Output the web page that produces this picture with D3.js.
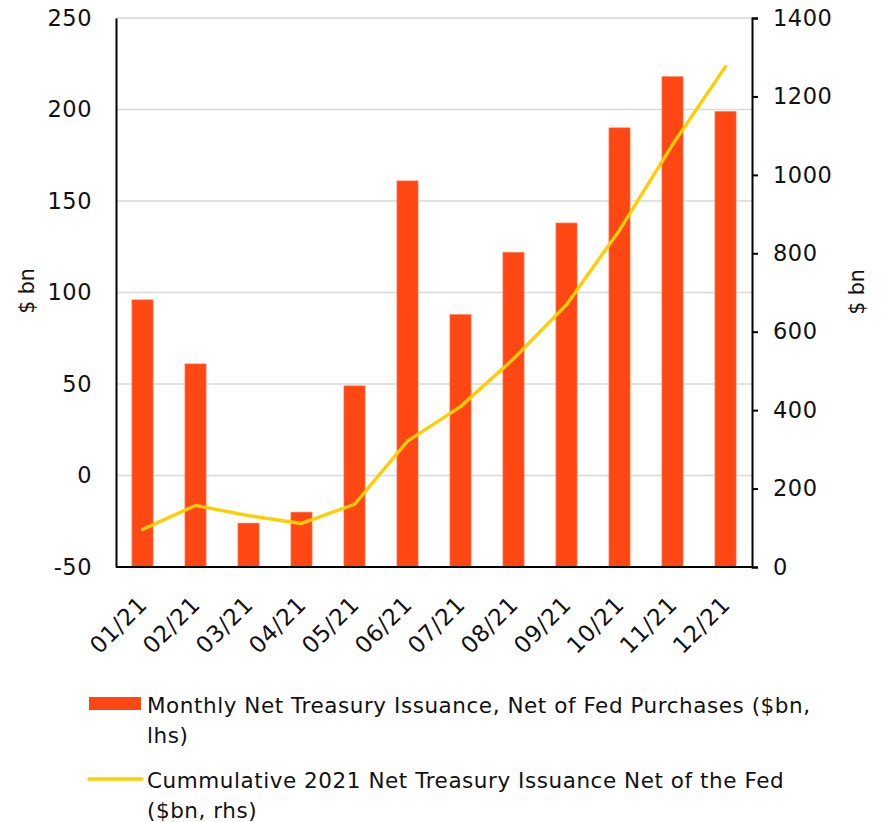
<!DOCTYPE html>
<html>
<head>
<meta charset="utf-8">
<script src="https://cdn.jsdelivr.net/npm/d3@7/dist/d3.min.js"></script>
<style>
  html, body { margin: 0; padding: 0; background: #fff; }
  svg { display: block; font-family: "DejaVu Sans", sans-serif; }
</style>
</head>
<body>
<svg id="chart" width="881" height="822"></svg>
<script>
// Month labels
const months = ["01/21","02/21","03/21","04/21","05/21","06/21","07/21","08/21","09/21","10/21","11/21","12/21"];
// Monthly net Treasury issuance, net of Fed purchases ($bn, left axis)
const monthly = [96, 61, -26, -20, 49, 161, 88, 122, 138, 190, 218, 199];
// Cumulative 2021 net issuance net of the Fed ($bn, right axis)
const cumulative = [96, 157, 131, 111, 160, 321, 409, 531, 669, 859, 1077, 1276];
// Axis ticks
const leftTicks = [-50, 0, 50, 100, 150, 200, 250];
const rightTicks = [0, 200, 400, 600, 800, 1000, 1200, 1400];
// Legend entries
const legendBar = ["Monthly Net Treasury Issuance, Net of Fed Purchases ($bn,", "lhs)"];
const legendLine = ["Cummulative 2021 Net Treasury Issuance Net of the Fed", "($bn, rhs)"];

const FONT = "DejaVu Sans, sans-serif";
const svg = d3.select("#chart");
const m = { left: 116, right: 752, top: 18, bottom: 567 };

const x = d3.scaleBand().domain(months).range([m.left, m.right]).paddingInner(0.6).paddingOuter(0.3);
const yL = d3.scaleLinear().domain([-50, 250]).range([m.bottom, m.top]);
const yR = d3.scaleLinear().domain([0, 1400]).range([m.bottom, m.top]);

const barColor = "#ff4713";
const lineColor = "#ffce00";
const textColor = "#111";

// Gridlines
svg.append("g")
  .selectAll("line")
  .data(leftTicks.filter(t => t > -50))
  .join("line")
  .attr("x1", m.left).attr("x2", m.right)
  .attr("y1", d => yL(d)).attr("y2", d => yL(d))
  .attr("stroke", "#d9d9d9").attr("stroke-width", 1.3);

// Bars (drawn up from the bottom axis)
svg.append("g")
  .selectAll("rect")
  .data(monthly)
  .join("rect")
  .attr("x", (d, i) => x(months[i]))
  .attr("width", x.bandwidth())
  .attr("y", d => yL(d))
  .attr("height", d => yL(-50) - yL(d))
  .attr("fill", barColor)
  .attr("stroke", "#ff8a66").attr("stroke-width", 0.6);

// Cumulative line
const line = d3.line()
  .x((d, i) => x(months[i]) + x.bandwidth() / 2)
  .y(d => yR(d));
svg.append("path")
  .datum(cumulative)
  .attr("d", line)
  .attr("fill", "none")
  .attr("stroke", lineColor)
  .attr("stroke-width", 3.4)
  .attr("stroke-linejoin", "round")
  .attr("stroke-linecap", "round");

// Left axis
const gL = svg.append("g").attr("transform", `translate(${m.left},0)`)
  .call(d3.axisLeft(yL).tickValues(leftTicks).tickSize(0).tickPadding(24).tickFormat(d3.format("d")));
gL.select(".domain").attr("stroke", "#000").attr("stroke-width", 2);
gL.selectAll("text").attr("font-size", 22.5).attr("fill", textColor).attr("font-family", FONT)
  .attr("letter-spacing", 0.5)
  .text(d => String(d));

// Right axis
const gR = svg.append("g").attr("transform", `translate(${m.right},0)`)
  .call(d3.axisRight(yR).tickValues(rightTicks).tickSize(6).tickSizeOuter(6).tickPadding(15).tickFormat(d3.format("d")));
gR.select(".domain").attr("stroke", "#000").attr("stroke-width", 2);
gR.selectAll(".tick line").attr("stroke", "#000").attr("stroke-width", 2);
gR.selectAll("text").attr("font-size", 22.5).attr("fill", textColor).attr("font-family", FONT)
  .attr("letter-spacing", 0.5);

// Bottom axis
const gB = svg.append("g").attr("transform", `translate(0,${m.bottom})`)
  .call(d3.axisBottom(x).tickSize(0).tickPadding(0));
gB.select(".domain").attr("stroke", "#000").attr("stroke-width", 2.2)
  .attr("d", `M${m.left},0H${m.right}`);
gB.selectAll("text")
  .attr("font-size", 23).attr("fill", textColor).attr("font-family", FONT)
  .attr("letter-spacing", 0.6)
  .attr("text-anchor", "end")
  .attr("y", 0)
  .attr("dy", null)
  .attr("transform", "translate(6,39) rotate(-45)");

// Axis titles
svg.append("text")
  .attr("transform", "translate(34,291) rotate(-90)")
  .attr("text-anchor", "middle")
  .attr("font-size", 20.5).attr("fill", textColor)
  .text("$ bn");
svg.append("text")
  .attr("transform", "translate(864,292) rotate(-90)")
  .attr("text-anchor", "middle")
  .attr("font-size", 20.5).attr("fill", textColor)
  .text("$ bn");

// Legend
const lg = svg.append("g").attr("font-size", 21.5).attr("fill", textColor).attr("letter-spacing", 0.55);
lg.append("rect").attr("x", 89).attr("y", 697).attr("width", 52).attr("height", 13).attr("fill", barColor);
lg.append("text").attr("x", 147).attr("y", 713)
  .selectAll("tspan").data(legendBar).join("tspan")
  .attr("x", 147).attr("dy", (d, i) => i ? 30 : 0).text(d => d);
lg.append("line").attr("x1", 89).attr("x2", 142).attr("y1", 779).attr("y2", 779)
  .attr("stroke", lineColor).attr("stroke-width", 3.5).attr("stroke-linecap", "round");
lg.append("text").attr("x", 147).attr("y", 788)
  .selectAll("tspan").data(legendLine).join("tspan")
  .attr("x", 147).attr("dy", (d, i) => i ? 30 : 0).text(d => d);
</script>
</body>
</html>
